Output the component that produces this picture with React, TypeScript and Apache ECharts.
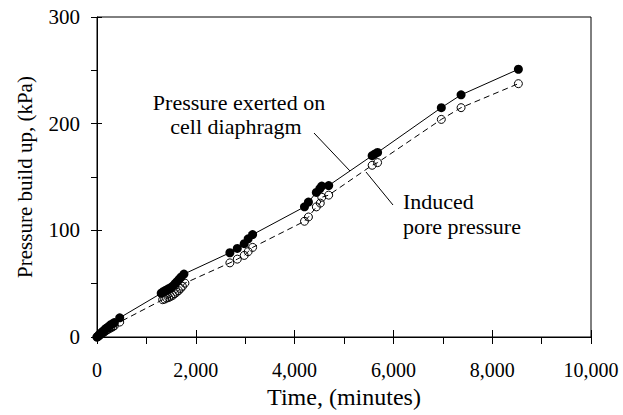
import React, { useEffect, useRef } from "react";
import * as echarts from "echarts";

// Elapsed time (minutes) and pressure readings (kPa)
const timeDiaphragm = [
  0, 25, 50, 80, 110, 140, 170, 200, 240, 280, 320, 350, 460,
  1300, 1340, 1380, 1420, 1460, 1500, 1540, 1580, 1620, 1660, 1700, 1760,
  2690, 2840, 2980, 3060, 3150,
  4200, 4280, 4440, 4510, 4550, 4690,
  5570, 5620, 5680,
  6970, 7370, 8530,
];
const pressureDiaphragm = [
  0, 1, 2.5, 3.5, 5, 6, 7.5, 8.5, 10, 11.5, 12.5, 13.5, 18,
  41, 42.5, 43.5, 44.5, 45.5, 46.5, 48, 50, 52, 54, 56, 59,
  79, 83, 87.5, 92, 96,
  122, 126.5, 135.5, 139, 141.5, 142,
  170, 171.5, 173,
  215, 227, 251,
];

const timePore = [
  0, 25, 50, 80, 110, 140, 170, 200, 240, 280, 320, 350, 460,
  1330, 1370, 1410, 1450, 1490, 1530, 1570, 1610, 1650, 1690, 1730, 1780,
  2690, 2840, 2980, 3060, 3150,
  4200, 4280, 4440, 4520, 4550, 4690,
  5570, 5680,
  6970, 7370, 8530,
];
const porePressure = [
  0, 0.5, 1.5, 2.5, 3.5, 4.5, 5.5, 6.5, 7.5, 8.5, 9.5, 10.5, 14,
  35, 35.5, 36.5, 37, 38, 39, 40.5, 42, 43.5, 45.5, 47.5, 50.5,
  69.5, 73, 76.5, 80, 84,
  108.5, 112.5, 122, 125.5, 131, 133,
  161, 163.5,
  204, 215, 237.5,
];

const X_MIN = 0;
const X_MAX = 10000;
const X_STEP = 2000;
const Y_MIN = 0;
const Y_MAX = 300;
const Y_STEP = 100;

const FONT = "Liberation Serif";
const INK = "#000";

const zip = (xs: number[], ys: number[]) => xs.map((x, i) => [x, ys[i]]);

const note = (text: string, x: number, y: number, align: "left" | "center") => ({
  type: "text",
  x,
  y,
  style: {
    text,
    fill: INK,
    fontFamily: FONT,
    fontSize: 22,
    align,
    verticalAlign: "bottom",
  },
});

export default function App() {
  const ref = useRef<HTMLDivElement>(null);

  useEffect(() => {
    if (!ref.current) return;
    const chart = echarts.init(ref.current, undefined, { renderer: "svg" });

    const labelStyle = { color: INK, fontFamily: FONT, fontSize: 20 };

    chart.setOption({
      animation: false,
      backgroundColor: "#fff",
      textStyle: { fontFamily: FONT },
      grid: {
        left: 97,
        top: 17,
        right: 32,
        bottom: 78,
        show: true,
        borderColor: INK,
        borderWidth: 1,
      },
      xAxis: [
        {
          type: "value",
          min: X_MIN,
          max: X_MAX,
          interval: X_STEP,
          name: "Time, (minutes)",
          nameLocation: "middle",
          nameGap: 33,
          nameTextStyle: { color: INK, fontFamily: FONT, fontSize: 24 },
          axisLine: { show: true, lineStyle: { color: INK, width: 1 } },
          axisTick: { show: true, length: 7, lineStyle: { color: INK } },
          minorTick: { show: true, splitNumber: 2, length: 7, lineStyle: { color: INK } },
          splitLine: { show: false },
          axisLabel: {
            ...labelStyle,
            margin: 23,
            formatter: (v: number) => v.toLocaleString("en-US"),
          },
        },
        {
          // inner half of the major ticks
          type: "value",
          position: "bottom",
          min: X_MIN,
          max: X_MAX,
          interval: X_STEP,
          axisLine: { show: false },
          axisTick: { show: true, inside: true, length: 7, lineStyle: { color: INK } },
          axisLabel: { show: false },
          splitLine: { show: false },
        },
      ],
      yAxis: [
        {
          type: "value",
          min: Y_MIN,
          max: Y_MAX,
          interval: Y_STEP,
          name: "Pressure build up, (kPa)",
          nameLocation: "middle",
          nameGap: 62,
          nameTextStyle: { color: INK, fontFamily: FONT, fontSize: 21 },
          axisLine: { show: true, lineStyle: { color: INK, width: 1 } },
          axisTick: { show: true, length: 6, lineStyle: { color: INK } },
          minorTick: { show: true, splitNumber: 2, length: 6, lineStyle: { color: INK } },
          splitLine: { show: false },
          axisLabel: { ...labelStyle, fontSize: 21, margin: 17 },
        },
        {
          type: "value",
          position: "left",
          min: Y_MIN,
          max: Y_MAX,
          interval: Y_STEP,
          axisLine: { show: false },
          axisTick: { show: true, inside: true, length: 5, lineStyle: { color: INK } },
          axisLabel: { show: false },
          splitLine: { show: false },
        },
      ],
      series: [
        {
          name: "Induced pore pressure",
          type: "line",
          data: zip(timePore, porePressure),
          symbol: "circle",
          symbolSize: 8,
          lineStyle: { color: INK, width: 1, type: [6, 4] },
          itemStyle: { color: "rgba(255,255,255,0)", borderColor: INK, borderWidth: 1 },
          z: 2,
        },
        {
          name: "Pressure exerted on cell diaphragm",
          type: "line",
          data: zip(timeDiaphragm, pressureDiaphragm),
          symbol: "circle",
          symbolSize: 9,
          lineStyle: { color: INK, width: 1 },
          itemStyle: { color: INK, borderColor: INK, borderWidth: 0 },
          z: 3,
        },
      ],
      graphic: [
        note("Pressure exerted on", 239, 113, "center"),
        note("cell diaphragm", 236, 137, "center"),
        {
          type: "line",
          shape: { x1: 314, y1: 133, x2: 350, y2: 171 },
          style: { stroke: INK, lineWidth: 1 },
        },
        note("Induced", 403, 212, "left"),
        note("pore pressure", 403, 237, "left"),
        {
          type: "line",
          shape: { x1: 366, y1: 172, x2: 393, y2: 205 },
          style: { stroke: INK, lineWidth: 1 },
        },
      ],
    });

    return () => chart.dispose();
  }, []);

  return (
    <div
      ref={ref}
      style={{ position: "absolute", left: 0, top: 0, width: 623, height: 415 }}
    />
  );
}
